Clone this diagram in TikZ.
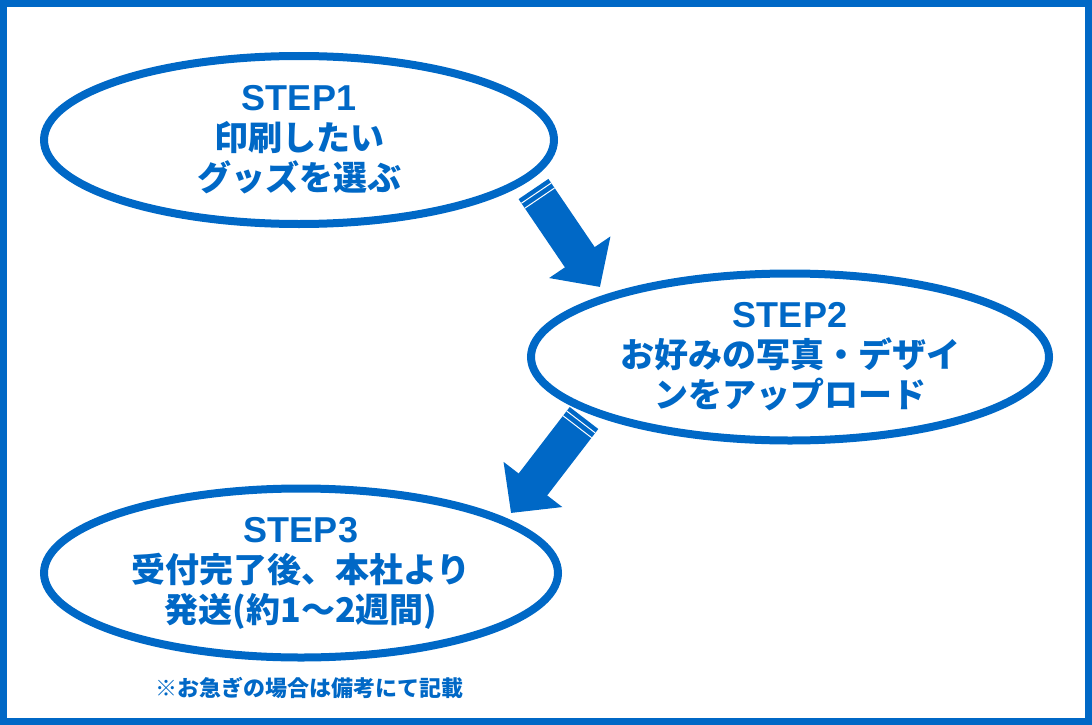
\documentclass[tikz,border=0pt]{standalone}
\usepackage{fontspec}
\setmainfont{Noto Sans CJK JP}[BoldFont={Noto Sans CJK JP Black}]
\newfontfamily\lat{Liberation Sans}[BoldFont={Liberation Sans Bold}]
\usetikzlibrary{arrows.meta,shapes.geometric,calc}
\definecolor{ao}{HTML}{0068C6}
\newcommand\steptitle[1]{{\lat\bfseries\fontsize{36}{40}\selectfont #1}}

\begin{document}
\begin{tikzpicture}[x=1pt,y=-1pt, stepbox/.style={ellipse,draw=ao,line width=8pt,text=ao,font=\bfseries\fontsize{34}{40}\selectfont,align=center,inner sep=0pt}, arr/.style={-{Triangle[width=72pt,length=36pt]},line width=36pt,color=ao}, stripe/.style={white,line width=1pt}]
\useasboundingbox (0,0) rectangle (1092,725);
\draw[ao,line width=7pt] (3.5,3.5) rectangle (1088.5,721.5);
\node[stepbox,minimum width=510pt,minimum height=168pt] (s1) at (299,140) {\steptitle{STEP1}\\印刷したい\\グッズを選ぶ};
\node[stepbox,minimum width=518pt,minimum height=167pt] (s2) at (790,357) {\steptitle{STEP2}\\お好みの写真・デザイ\\ンをアップロード};
\node[stepbox,minimum width=514pt,minimum height=169pt] (s3) at (301,573) {\steptitle{STEP3}\\受付完了後、本社より\\発送(約1〜2週間)};
\node[text=ao,font=\bfseries\fontsize{22}{26}\selectfont] (note) at (309,688) {※お急ぎの場合は備考にて記載};
\coordinate (a1t) at (533.5,189); \coordinate (a1h) at (600,287);
\coordinate (a2t) at (584,418); \coordinate (a2h) at (511,513);
\draw[arr] (a1t)--(a1h); \draw[arr] (a2t)--(a2h);
\foreach \d in {5,11} {
  \draw[stripe] ($(a1t)!\d pt!(a1h)!18pt!90:(a1h)$) -- ($(a1t)!\d pt!(a1h)!18pt!-90:(a1h)$);
  \draw[stripe] ($(a2t)!\d pt!(a2h)!18pt!90:(a2h)$) -- ($(a2t)!\d pt!(a2h)!18pt!-90:(a2h)$);
}
\end{tikzpicture}
\end{document}
